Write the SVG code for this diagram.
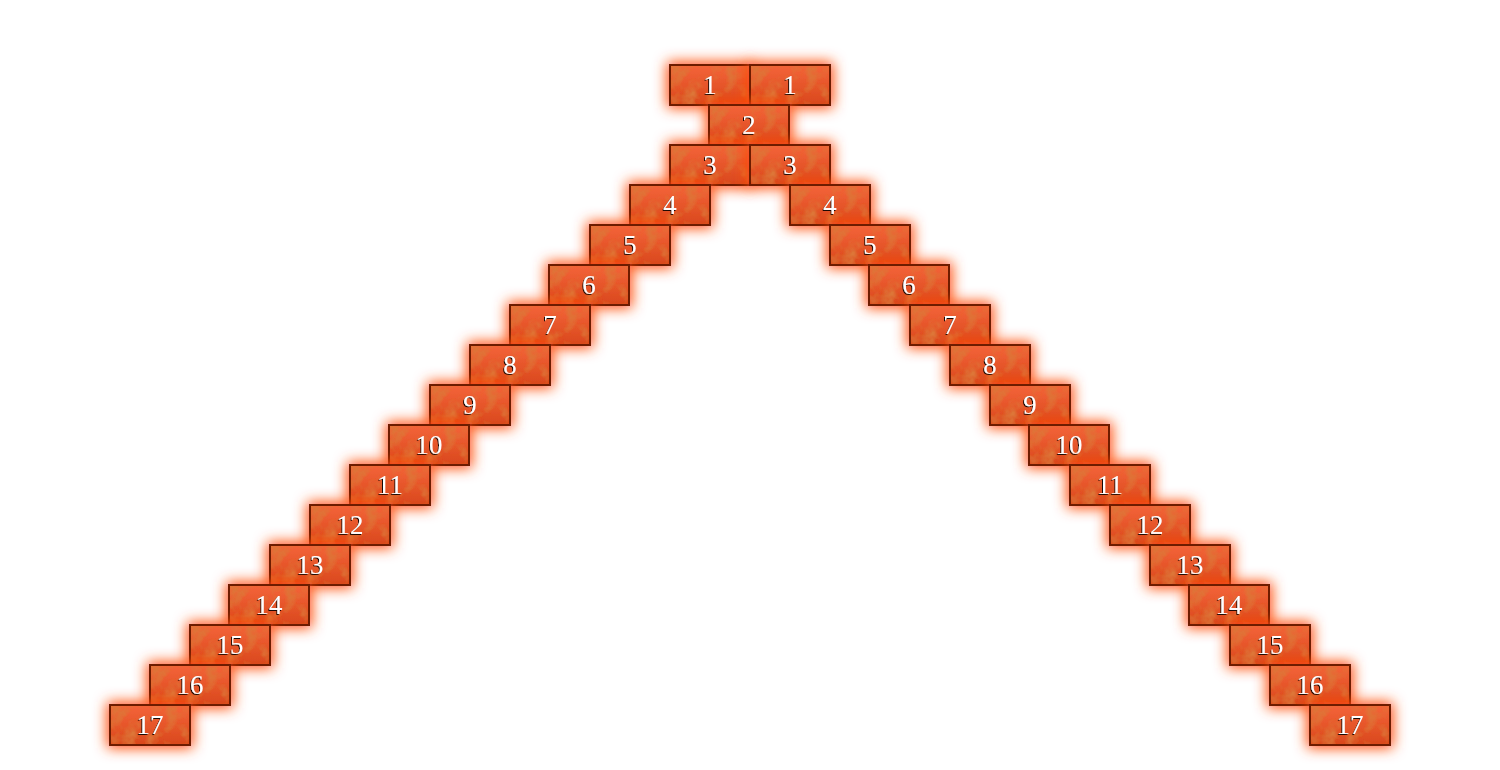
<svg xmlns="http://www.w3.org/2000/svg" width="1500" height="770" viewBox="0 0 1500 770">
<defs>
<linearGradient id="g" x1="0" y1="0" x2="0" y2="1">
<stop offset="0" stop-color="#f4643a"/>
<stop offset="1" stop-color="#d9481c"/>
</linearGradient>
<filter id="glow" x="-40%" y="-70%" width="180%" height="240%">
<feFlood flood-color="#ff4a10" flood-opacity="1" result="c"/>
<feComposite in="c" in2="SourceAlpha" operator="in" result="s"/>
<feMorphology in="s" operator="dilate" radius="2" result="d"/>
<feGaussianBlur in="d" stdDeviation="7" result="b"/>
<feMerge><feMergeNode in="b"/><feMergeNode in="SourceGraphic"/></feMerge>
</filter>
<filter id="tex" x="0" y="0" width="100%" height="100%">
<feTurbulence type="fractalNoise" baseFrequency="0.07" numOctaves="3" seed="4" result="n"/>
<feColorMatrix in="n" type="matrix" values="0 0 0 0 0.72  0 0 0 0 0.18  0 0 0 0 0.04  0 0 0 -2.6 1.45" result="m"/>
<feComposite in="m" in2="SourceAlpha" operator="in" result="t"/>
<feMerge><feMergeNode in="SourceGraphic"/><feMergeNode in="t"/></feMerge>
</filter>
<filter id="ts" x="-20%" y="-20%" width="140%" height="140%">
<feDropShadow dx="-1" dy="1" stdDeviation="0.4" flood-color="#000" flood-opacity="0.9"/>
</filter>
<symbol id="brick" overflow="visible">
<g filter="url(#glow)">
<rect x="0" y="0" width="80" height="40" fill="url(#g)" filter="url(#tex)"/>
<rect x="0" y="0" width="80" height="40" fill="none" stroke="#6e1a02" stroke-width="2"/>
</g>
</symbol>
</defs>
<style>
text{font-family:"Liberation Serif","DejaVu Serif",serif;font-size:27px;fill:#fff;text-anchor:middle;filter:url(#ts)}
</style>
<g id="connectors"/>
<g id="L1"><use href="#brick" x="670" y="65"/><text x="710" y="94">1</text></g>
<g id="R1"><use href="#brick" x="750" y="65"/><text x="790" y="94">1</text></g>
<g id="C2"><use href="#brick" x="709" y="105"/><text x="749" y="134">2</text></g>
<g id="L3"><use href="#brick" x="670" y="145"/><text x="710" y="174">3</text></g>
<g id="R3"><use href="#brick" x="750" y="145"/><text x="790" y="174">3</text></g>
<g id="L4"><use href="#brick" x="630" y="185"/><text x="670" y="214">4</text></g>
<g id="R4"><use href="#brick" x="790" y="185"/><text x="830" y="214">4</text></g>
<g id="L5"><use href="#brick" x="590" y="225"/><text x="630" y="254">5</text></g>
<g id="R5"><use href="#brick" x="830" y="225"/><text x="870" y="254">5</text></g>
<g id="L6"><use href="#brick" x="549" y="265"/><text x="589" y="294">6</text></g>
<g id="R6"><use href="#brick" x="869" y="265"/><text x="909" y="294">6</text></g>
<g id="L7"><use href="#brick" x="510" y="305"/><text x="550" y="334">7</text></g>
<g id="R7"><use href="#brick" x="910" y="305"/><text x="950" y="334">7</text></g>
<g id="L8"><use href="#brick" x="470" y="345"/><text x="510" y="374">8</text></g>
<g id="R8"><use href="#brick" x="950" y="345"/><text x="990" y="374">8</text></g>
<g id="L9"><use href="#brick" x="430" y="385"/><text x="470" y="414">9</text></g>
<g id="R9"><use href="#brick" x="990" y="385"/><text x="1030" y="414">9</text></g>
<g id="L10"><use href="#brick" x="389" y="425"/><text x="429" y="454">10</text></g>
<g id="R10"><use href="#brick" x="1029" y="425"/><text x="1069" y="454">10</text></g>
<g id="L11"><use href="#brick" x="350" y="465"/><text x="390" y="494">11</text></g>
<g id="R11"><use href="#brick" x="1070" y="465"/><text x="1110" y="494">11</text></g>
<g id="L12"><use href="#brick" x="310" y="505"/><text x="350" y="534">12</text></g>
<g id="R12"><use href="#brick" x="1110" y="505"/><text x="1150" y="534">12</text></g>
<g id="L13"><use href="#brick" x="270" y="545"/><text x="310" y="574">13</text></g>
<g id="R13"><use href="#brick" x="1150" y="545"/><text x="1190" y="574">13</text></g>
<g id="L14"><use href="#brick" x="229" y="585"/><text x="269" y="614">14</text></g>
<g id="R14"><use href="#brick" x="1189" y="585"/><text x="1229" y="614">14</text></g>
<g id="L15"><use href="#brick" x="190" y="625"/><text x="230" y="654">15</text></g>
<g id="R15"><use href="#brick" x="1230" y="625"/><text x="1270" y="654">15</text></g>
<g id="L16"><use href="#brick" x="150" y="665"/><text x="190" y="694">16</text></g>
<g id="R16"><use href="#brick" x="1270" y="665"/><text x="1310" y="694">16</text></g>
<g id="L17"><use href="#brick" x="110" y="705"/><text x="150" y="734">17</text></g>
<g id="R17"><use href="#brick" x="1310" y="705"/><text x="1350" y="734">17</text></g>
</svg>
